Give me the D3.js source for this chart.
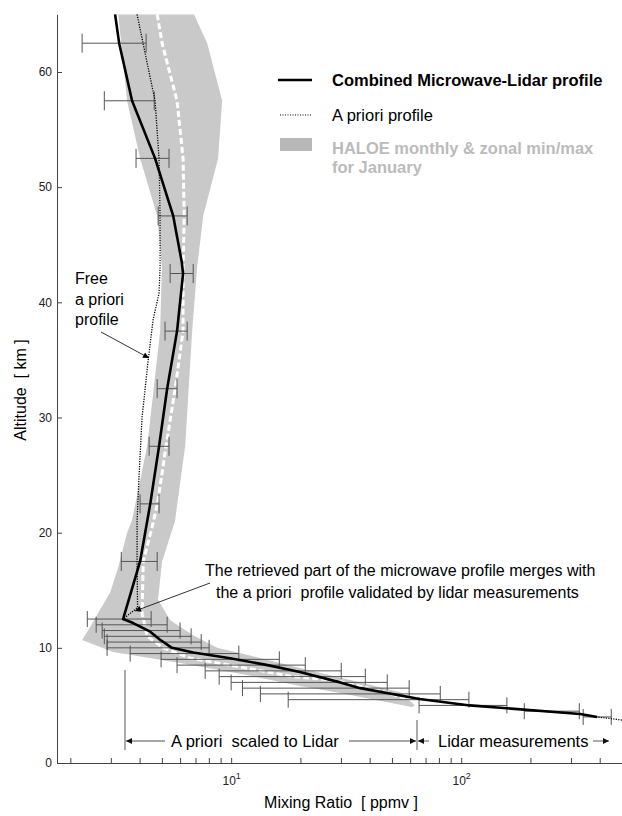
<!DOCTYPE HTML>
<html>
<head>
<meta charset="utf-8">
<title>Combined Microwave-Lidar water vapour profile</title>
<style>
  body { margin: 0; background: #ffffff; }
  svg text { font-family: "Liberation Sans", Arial, Helvetica, sans-serif; }
  .pre { white-space: pre; }
</style>
</head>
<body>
<div id="chart"></div>
<script src="https://cdnjs.cloudflare.com/ajax/libs/d3/7.8.5/d3.min.js"></script>
<script>

// ---- values: altitude [km], mixing ratio [ppmv] ----

// combined microwave-lidar profile (black line)
var combinedAlt = [65, 62.5, 57.5, 52.5, 47.5, 43.5, 42.5, 37.5, 32.5, 27.5, 22.5, 17.5, 12.5,
                   12.15, 11.4, 10.7, 10.0, 9.6, 9.1, 8.5, 7.9, 7.0, 6.5, 5.55, 5.0, 4.25, 4.0];
var combinedVal = [3.13, 3.26, 3.71, 4.67, 5.6, 6.1, 6.18, 5.82, 5.27, 4.86, 4.45, 4.02, 3.39,
                   3.75, 4.45, 4.91, 5.53, 6.84, 9.9, 14.4, 19.9, 29.8, 36.4, 66, 109, 329, 390];

// a priori profile (dotted), scaled to lidar below 12.5 km
var aprioriAlt = [65, 62.5, 57.5, 52.5, 47.5, 43, 40.8, 38.5, 35, 30, 25, 21, 17, 13.5, 12.5,
                  12.15, 11.4, 10.7, 10.0, 9.6, 9.1, 8.5, 7.9, 7.0, 6.5, 5.55, 5.0, 4.25, 4.0, 3.73, 3.6];
var aprioriVal = [3.9, 4.14, 4.67, 4.86, 4.91, 4.91, 4.86, 4.58, 4.36, 4.1, 3.98, 3.9, 3.9, 3.92, 3.39,
                  3.75, 4.45, 4.91, 5.53, 6.84, 9.9, 14.4, 19.9, 29.8, 36.4, 66, 109, 329, 390, 500, 560];

// HALOE monthly zonal mean (white dashed)
var haloeMeanAlt = [65, 62.5, 57.5, 52.5, 47.5, 43, 37.5, 32.5, 27.5, 22.8, 21, 17.5, 13.0,
                    11.0, 10.0, 9.1, 8.5, 7.9, 7.5, 7.2, 6.2, 5.6];
var haloeMeanVal = [4.77, 5.01, 5.82, 6.18, 6.25, 6.18, 6.18, 5.71, 5.21, 4.81, 4.6, 4.15, 4.1,
                    4.32, 5.06, 6.64, 9.9, 14.4, 18.6, 27.7, 45.8, 58];

// HALOE min/max envelope (grey band)
var haloeMaxAlt = [65, 62.5, 57.5, 52.5, 47.5, 43, 37.5, 27.5, 21, 17.5, 14.2, 12.4, 11.1,
                   10.0, 9.4, 8.25, 7.2, 6.15, 5.0];
var haloeMaxVal = [6.9, 7.87, 9.14, 8.78, 7.56, 7.11, 6.77, 6.31, 5.7, 5.01, 4.81, 5.43, 6.84,
                   8.69, 11.7, 19.9, 32.9, 54.3, 63];
var haloeMinAlt = [4.86, 6.08, 6.69, 7.64, 8.68, 9.64, 10.68, 11.8, 13.3, 14.8, 17.0, 20.0, 21.1,
                   27.6, 37.4, 43, 47.5, 52.5, 57.5, 65];
var haloeMinVal = [61, 29.8, 19.9, 11.7, 6.0, 3.07, 2.25, 2.44, 2.69, 2.98, 3.23, 3.53, 3.71,
                   4.32, 4.91, 5.0, 4.77, 4.02, 3.53, 3.23];

// error bars: altitude, lower and upper bound
var errAlt  = [62.5, 57.5, 52.5, 47.5, 42.5, 37.5, 32.5, 27.5, 22.5, 17.5,
               12.5, 12.0, 11.5, 11.0, 10.5, 10.0, 9.5, 9.0, 8.5, 8.0, 7.5, 7.0, 6.5, 6.0, 5.5, 5.0, 4.5, 4.0];
var errLow  = [2.25, 2.81, 3.86, 4.82, 5.43, 5.16, 4.77, 4.40, 4.02, 3.33,
               2.37, 2.59, 2.75, 2.81, 2.89, 2.89, 3.64, 4.96, 5.82, 7.71, 8.87, 10.0, 11.2, 13.4, 17.7, 65.6, 188, 339];
var errHigh = [4.27, 4.63, 5.37, 6.44, 6.84, 6.44, 5.82, 5.37, 4.86, 4.77,
               4.49, 5.27, 6.00, 6.70, 7.41, 8.02, 10.8, 16.2, 21.0, 30.1, 38.3, 47.7, 59.4, 81.1, 108, 158, 326, 449];

// axis ticks
var yTicks = [0, 10, 20, 30, 40, 50, 60];
var xTicks = [2, 3, 4, 5, 6, 7, 8, 9, 10, 20, 30, 40, 50, 60, 70, 80, 90, 100, 200, 300, 400, 500];
var xLabelled = [10, 100];

// ---- layout ----
var margin = {top: 14.4, right: 0, bottom: 53, left: 57},
    width = 622 - margin.left - margin.right,
    height = 816 - margin.top - margin.bottom;

var root = d3.select("#chart")
  .append("svg")
    .attr("width", 622)
    .attr("height", 816);

var defs = root.append("defs");
function addArrow(id, w, h, color) {
  defs.append("marker")
      .attr("id", id)
      .attr("viewBox", "0 0 10 10")
      .attr("refX", 10)
      .attr("refY", 5)
      .attr("markerUnits", "userSpaceOnUse")
      .attr("markerWidth", w)
      .attr("markerHeight", h)
      .attr("orient", "auto-start-reverse")
    .append("path")
      .attr("d", "M0,0L10,5L0,10Z")
      .attr("fill", color);
}
addArrow("arrowThin", 9, 6, "#000");
addArrow("arrowBottom", 9, 6, "#111");

var svg = root.append("g")
    .attr("transform", "translate(" + margin.left + "," + margin.top + ")");

var x = d3.scaleLog()
  .domain([1.75, 500])
  .range([0, width]);

var y = d3.scaleLinear()
  .domain([0, 65])
  .range([height, 0]);

var line = d3.line()
  .x(function(d) { return x(d[1]); })
  .y(function(d) { return y(d[0]); });

// HALOE min/max band
var band = d3.zip(haloeMaxAlt, haloeMaxVal).concat(d3.zip(haloeMinAlt, haloeMinVal));
svg.append("path")
  .attr("d", line(band) + "Z")
  .attr("fill", "#c9c9c9")
  .attr("stroke", "none");

// HALOE mean
svg.append("path")
  .attr("d", line(d3.zip(haloeMeanAlt, haloeMeanVal)))
  .attr("fill", "none")
  .attr("stroke", "#ffffff")
  .attr("stroke-width", 3)
  .attr("stroke-dasharray", "6,3");

// error bars
var bars = svg.selectAll(".errbar")
  .data(d3.range(errAlt.length))
  .enter()
  .append("g")
    .attr("class", "errbar")
    .attr("stroke", "#555")
    .attr("stroke-width", 1);

bars.append("line")
  .attr("x1", function(i) { return x(errLow[i]); })
  .attr("x2", function(i) { return x(errHigh[i]); })
  .attr("y1", function(i) { return y(errAlt[i]); })
  .attr("y2", function(i) { return y(errAlt[i]); });

[errLow, errHigh].forEach(function(arr) {
  bars.append("line")
    .attr("x1", function(i) { return x(arr[i]); })
    .attr("x2", function(i) { return x(arr[i]); })
    .attr("y1", function(i) { return y(errAlt[i]) - (errAlt[i] > 15 ? 9.5 : 8); })
    .attr("y2", function(i) { return y(errAlt[i]) + (errAlt[i] > 15 ? 9.5 : 8); });
});

// a priori profile
svg.append("path")
  .attr("d", line(d3.zip(aprioriAlt, aprioriVal)))
  .attr("fill", "none")
  .attr("stroke", "#000")
  .attr("stroke-width", 1.3)
  .attr("stroke-dasharray", "1.2,1.3");

// combined profile
svg.append("path")
  .attr("d", line(d3.zip(combinedAlt, combinedVal)))
  .attr("fill", "none")
  .attr("stroke", "#000")
  .attr("stroke-width", 2.6)
  .attr("stroke-linejoin", "round");

// ---- axes ----
var yAxis = svg.append("g")
  .attr("color", "#444")
  .call(d3.axisLeft(y).tickValues(yTicks).tickSizeInner(-5).tickSizeOuter(0).tickPadding(5));
yAxis.selectAll("text").attr("font-size", 12).attr("fill", "#222");

var xAxis = svg.append("g")
  .attr("transform", "translate(0," + height + ")")
  .attr("color", "#444")
  .call(d3.axisBottom(x).tickValues(xTicks).tickSizeInner(-5).tickSizeOuter(0).tickPadding(13)
    .tickFormat(function(d) { return xLabelled.indexOf(d) >= 0 ? "10" : ""; }));
xAxis.selectAll("text")
  .attr("font-size", 12)
  .attr("fill", "#222")
  .each(function(d) {
    if (xLabelled.indexOf(d) >= 0) {
      d3.select(this).append("tspan")
        .attr("font-size", 9)
        .attr("dy", "-0.6em")
        .text(Math.round(Math.log10(d)));
    }
  });

// axis titles
root.append("text")
  .attr("transform", "translate(26,390) rotate(-90)")
  .attr("text-anchor", "middle")
  .attr("font-size", 16)
  .attr("class", "pre")
  .text("Altitude  [ km ]");

root.append("text")
  .attr("x", 341)
  .attr("y", 808)
  .attr("text-anchor", "middle")
  .attr("font-size", 16)
  .attr("class", "pre")
  .text("Mixing Ratio  [ ppmv ]");

// ---- legend ----
var legend = root.append("g");
legend.append("line")
  .attr("x1", 278).attr("x2", 312).attr("y1", 80).attr("y2", 80)
  .attr("stroke", "#000").attr("stroke-width", 2.5);
legend.append("text")
  .attr("x", 332).attr("y", 86)
  .attr("font-size", 16.5).attr("font-weight", "bold")
  .text("Combined Microwave-Lidar profile");

legend.append("line")
  .attr("x1", 280).attr("x2", 312).attr("y1", 115).attr("y2", 115)
  .attr("stroke", "#000").attr("stroke-width", 1).attr("stroke-dasharray", "1,1.5");
legend.append("text")
  .attr("x", 332).attr("y", 121)
  .attr("font-size", 16.5)
  .text("A priori profile");

legend.append("rect")
  .attr("x", 280).attr("y", 138).attr("width", 32).attr("height", 13)
  .attr("fill", "#b8b8b8");
legend.append("text")
  .attr("x", 332).attr("y", 154)
  .attr("font-size", 16.5).attr("font-weight", "bold").attr("fill", "#bbbbbb")
  .text("HALOE monthly & zonal min/max");
legend.append("text")
  .attr("x", 332).attr("y", 173)
  .attr("font-size", 16.5).attr("font-weight", "bold").attr("fill", "#bbbbbb")
  .text("for January");

// ---- annotations ----
var notes = root.append("g").attr("font-size", 16);
["Free", "a priori", "profile"].forEach(function(t, i) {
  notes.append("text").attr("x", 75).attr("y", [284, 305, 325][i]).text(t);
});
notes.append("line")
  .attr("x1", 101).attr("y1", 332).attr("x2", 149).attr("y2", 358)
  .attr("stroke", "#000").attr("stroke-width", 0.8)
  .attr("marker-end", "url(#arrowThin)");

notes.append("text").attr("x", 205).attr("y", 576)
  .text("The retrieved part of the microwave profile merges with");
notes.append("text").attr("x", 216).attr("y", 598).attr("class", "pre")
  .text("the a priori  profile validated by lidar measurements");
notes.append("line")
  .attr("x1", 210).attr("y1", 583).attr("x2", 135).attr("y2", 611)
  .attr("stroke", "#000").attr("stroke-width", 0.8)
  .attr("marker-end", "url(#arrowThin)");

// ranges at the bottom
var ranges = root.append("g").attr("stroke", "#888").attr("stroke-width", 1.4);
ranges.append("line").attr("x1", 125).attr("x2", 125).attr("y1", 670).attr("y2", 750);
ranges.append("line").attr("x1", 417).attr("x2", 417).attr("y1", 720).attr("y2", 750);
[[165, 126], [349, 416], [429, 418], [593, 609]].forEach(function(p) {
  ranges.append("line")
    .attr("x1", p[0]).attr("x2", p[1]).attr("y1", 741).attr("y2", 741)
    .attr("marker-end", "url(#arrowBottom)");
});
root.append("text").attr("x", 171).attr("y", 747).attr("font-size", 16.5).attr("class", "pre")
  .text("A priori  scaled to Lidar");
root.append("text").attr("x", 438).attr("y", 747).attr("font-size", 16.5)
  .text("Lidar measurements");

</script>
</body>
</html>
